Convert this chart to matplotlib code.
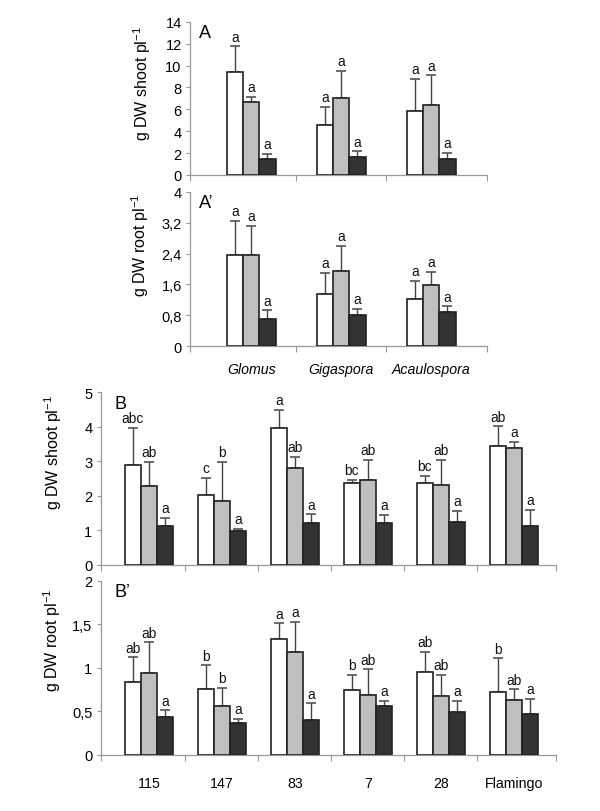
import matplotlib
matplotlib.use("Agg")
import matplotlib.pyplot as plt
import numpy as np

plt.rcParams['font.family'] = ['Liberation Sans', 'DejaVu Sans']
plt.rcParams['mathtext.fontset'] = 'custom'
plt.rcParams['mathtext.rm'] = 'Liberation Sans'
plt.rcParams['mathtext.it'] = 'Liberation Sans:italic'
plt.rcParams['mathtext.bf'] = 'Liberation Sans:bold'

# ---- Data ----
fungi = ["Glomus", "Gigaspora", "Acaulospora"]
A_shoot_white = [9.45, 4.6, 5.8]
A_shoot_gray = [6.7, 7.05, 6.35]
A_shoot_black = [1.45, 1.6, 1.5]
A_shoot_white_err = [2.3, 1.6, 3.0]
A_shoot_gray_err = [0.45, 2.45, 2.75]
A_shoot_black_err = [0.5, 0.55, 0.5]
A_shoot_letters = [["a", "a", "a"], ["a", "a", "a"], ["a", "a", "a"]]

A_root_white = [2.36, 1.35, 1.22]
A_root_gray = [2.36, 1.94, 1.58]
A_root_black = [0.71, 0.80, 0.88]
A_root_white_err = [0.89, 0.55, 0.48]
A_root_gray_err = [0.75, 0.66, 0.35]
A_root_black_err = [0.22, 0.17, 0.15]
A_root_letters = [["a", "a", "a"], ["a", "a", "a"], ["a", "a", "a"]]

cultivars = ["115", "147", "83", "7", "28", "Flamingo"]
B_shoot_white = [2.9, 2.02, 3.96, 2.37, 2.37, 3.45]
B_shoot_gray = [2.27, 1.86, 2.79, 2.46, 2.32, 3.37]
B_shoot_black = [1.12, 0.97, 1.21, 1.22, 1.25, 1.11]
B_shoot_white_err = [1.06, 0.5, 0.52, 0.09, 0.21, 0.56]
B_shoot_gray_err = [0.71, 1.13, 0.34, 0.59, 0.73, 0.19]
B_shoot_black_err = [0.24, 0.07, 0.25, 0.23, 0.31, 0.48]
B_shoot_letters = [["abc", "ab", "a"], ["c", "b", "a"], ["a", "ab", "a"],
                   ["bc", "ab", "a"], ["bc", "ab", "a"], ["ab", "a", "a"]]

B_root_white = [0.84, 0.76, 1.33, 0.74, 0.95, 0.72]
B_root_gray = [0.94, 0.56, 1.18, 0.69, 0.67, 0.63]
B_root_black = [0.43, 0.36, 0.40, 0.56, 0.49, 0.47]
B_root_white_err = [0.28, 0.27, 0.18, 0.18, 0.23, 0.39]
B_root_gray_err = [0.35, 0.21, 0.35, 0.29, 0.25, 0.12]
B_root_black_err = [0.08, 0.05, 0.19, 0.06, 0.13, 0.17]
B_root_letters = [["ab", "ab", "a"], ["b", "b", "a"], ["a", "a", "a"],
                  ["b", "ab", "a"], ["ab", "ab", "a"], ["b", "ab", "a"]]

colors = ["#ffffff", "#bfbfbf", "#333333"]
axis_gray = "#999999"

W, H = 600, 812
fig = plt.figure(figsize=(W / 100, H / 100), dpi=100)


def panel(rect, vals, errs, letters, ylim, yticks, yticklabels, ylabel,
          ylabel_xy, panel_label, xlim, xticks, width, letter_pad,
          xlabels=None, xlabel_italic=False, xlabel_y=-0.1):
    ax = fig.add_axes(rect)
    n = len(vals[0])
    x = np.arange(n)
    offs = [-width, 0, width]
    for k in range(3):
        ax.bar(x + offs[k], vals[k], width=width, color=colors[k],
               edgecolor="#222222", linewidth=1.2, zorder=3)
        ax.errorbar(x + offs[k], vals[k], yerr=[np.zeros(n), errs[k]],
                    fmt="none", ecolor="#444444", elinewidth=1.0,
                    capsize=3.5, capthick=1.1, zorder=2)
        for i in range(n):
            ax.text(x[i] + offs[k], vals[k][i] + errs[k][i] + letter_pad,
                    letters[i][k], ha="center", va="bottom", fontsize=9.8,
                    color="#111111")
    ax.set_xlim(*xlim)
    ax.set_ylim(*ylim)
    ax.set_yticks(yticks)
    ax.set_yticklabels(yticklabels, fontsize=10.5)
    ax.set_xticks(xticks)
    ax.set_xticklabels([])
    ax.tick_params(axis="x", direction="out", length=4, color=axis_gray)
    ax.tick_params(axis="y", direction="out", length=3, color=axis_gray,
                   pad=3)
    for s in ["top", "right"]:
        ax.spines[s].set_visible(False)
    for s in ["left", "bottom"]:
        ax.spines[s].set_color(axis_gray)
        ax.spines[s].set_linewidth(0.9)
    fig.text(ylabel_xy[0] / W, 1 - ylabel_xy[1] / H, ylabel, rotation=90,
             ha="center", va="center", fontsize=11.5)
    ax.text(0.03, 0.985, panel_label, transform=ax.transAxes, fontsize=13,
            ha="left", va="top")
    if xlabels is not None:
        for i, lab in enumerate(xlabels):
            ax.text(x[i], xlabel_y, lab, transform=ax.get_xaxis_transform(),
                    ha="center", va="top", fontsize=10.2,
                    style="italic" if xlabel_italic else "normal")
    return ax


# Panel A
A_xlim = (-0.68, 2.62)
A_xticks = [-0.68, 0.5, 1.5, 2.62]
panel([0.3167, 0.7833, 0.495, 0.1887],
      [A_shoot_white, A_shoot_gray, A_shoot_black],
      [A_shoot_white_err, A_shoot_gray_err, A_shoot_black_err],
      A_shoot_letters, (0, 14), [0, 2, 4, 6, 8, 10, 12, 14],
      ["0", "2", "4", "6", "8", "10", "12", "14"],
      "g DW shoot pl$^{-1}$", (142, 84), "A", A_xlim, A_xticks, 0.18, 0.25)

panel([0.3167, 0.5723, 0.495, 0.1904],
      [A_root_white, A_root_gray, A_root_black],
      [A_root_white_err, A_root_gray_err, A_root_black_err],
      A_root_letters, (0, 4), [0, 0.8, 1.6, 2.4, 3.2, 4],
      ["0", "0,8", "1,6", "2,4", "3,2", "4"],
      "g DW root pl$^{-1}$", (140, 245), "A\u2019", A_xlim, A_xticks,
      0.18, 0.07, xlabels=fungi, xlabel_italic=True)

# Panel B
B_xlim = (-0.66, 5.57)
B_xticks = [-0.66, 0.5, 1.5, 2.5, 3.5, 4.5, 5.57]
panel([0.1678, 0.3033, 0.7582, 0.2124],
      [B_shoot_white, B_shoot_gray, B_shoot_black],
      [B_shoot_white_err, B_shoot_gray_err, B_shoot_black_err],
      B_shoot_letters, (0, 5), [0, 1, 2, 3, 4, 5],
      ["0", "1", "2", "3", "4", "5"],
      "g DW shoot pl$^{-1}$", (53, 453), "B", B_xlim, B_xticks, 0.22, 0.08)

panel([0.1678, 0.0693, 0.7582, 0.2143],
      [B_root_white, B_root_gray, B_root_black],
      [B_root_white_err, B_root_gray_err, B_root_black_err],
      B_root_letters, (0, 2), [0, 0.5, 1, 1.5, 2],
      ["0", "0,5", "1", "1,5", "2"],
      "g DW root pl$^{-1}$", (52, 640), "B\u2019", B_xlim, B_xticks,
      0.22, 0.03, xlabels=cultivars, xlabel_y=-0.12)

fig.savefig("out.png", dpi=100)
